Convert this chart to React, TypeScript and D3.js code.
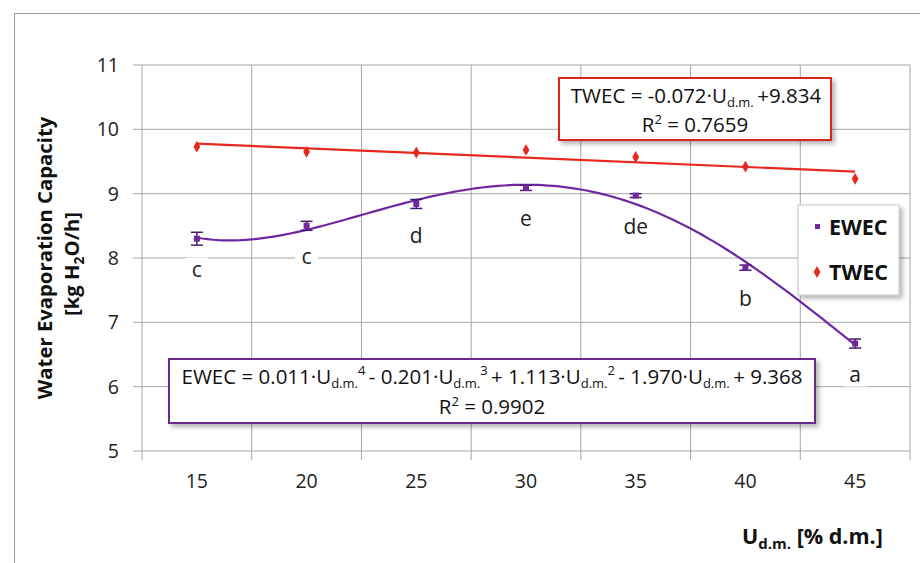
import * as d3 from "d3";

// moisture content categories (x axis is categorical, like an Excel line chart)
const categories = ["15", "20", "25", "30", "35", "40", "45"];
const ewec = [8.30, 8.50, 8.84, 9.09, 8.97, 7.85, 6.67];
const ewecErr = [0.10, 0.07, 0.07, 0.04, 0.03, 0.04, 0.07];
const twec = [9.73, 9.65, 9.64, 9.68, 9.57, 9.42, 9.23];
const letters = ["c", "c", "d", "e", "de", "b", "a"];
const yTicks = [5, 6, 7, 8, 9, 10, 11];

const W = 920;
const H = 563;
const margin = { top: 65, right: 10, bottom: 112, left: 142 };
const FONT = "'Open Sans', 'Noto Sans', sans-serif";
const PURPLE = "#7028a0";
const RED = "#e8281e";
const GRID = "#a6a6a6";

// least squares polynomial fit (what the trendline option does)
function polyFit(xs: number[], ys: number[], deg: number) {
  const n = deg + 1;
  const A: number[][] = [];
  for (let r = 0; r < n; r++) {
    const row: number[] = [];
    for (let c = 0; c < n; c++) row.push(d3.sum(xs, (x) => Math.pow(x, r + c)));
    row.push(d3.sum(xs, (x, i) => Math.pow(x, r) * ys[i]));
    A.push(row);
  }
  for (let i = 0; i < n; i++) {
    let p = i;
    for (let k = i + 1; k < n; k++) if (Math.abs(A[k][i]) > Math.abs(A[p][i])) p = k;
    [A[i], A[p]] = [A[p], A[i]];
    for (let k = i + 1; k < n; k++) {
      const f = A[k][i] / A[i][i];
      for (let c = i; c <= n; c++) A[k][c] -= f * A[i][c];
    }
  }
  const coef = new Array(n).fill(0);
  for (let i = n - 1; i >= 0; i--) {
    let s = A[i][n];
    for (let c = i + 1; c < n; c++) s -= A[i][c] * coef[c];
    coef[i] = s / A[i][i];
  }
  return (x: number) => coef.reduce((acc, c, i) => acc + c * Math.pow(x, i), 0);
}

function Sub({ children }: { children: string }) {
  return (
    <>
      <tspan dy={4} fontSize={13}>{children}</tspan>
      <tspan dy={-4}>{"\u2009"}</tspan>
    </>
  );
}
function SubSup({ sub, sup }: { sub: string; sup: string }) {
  return (
    <>
      <tspan dy={4} fontSize={13}>{sub}</tspan>
      <tspan dy={-13} fontSize={13}>{sup}</tspan>
      <tspan dy={9}>{"\u2009"}</tspan>
    </>
  );
}

export default function App() {
  const x = d3.scaleBand<string>().domain(categories).range([margin.left, W - margin.right]).padding(0);
  const xIdx = d3.scaleLinear().domain([0.5, categories.length + 0.5]).range([margin.left, W - margin.right]);
  const y = d3.scaleLinear().domain([5, 11]).range([H - margin.bottom, margin.top]);
  const cx = (i: number) => (x(categories[i]) as number) + x.bandwidth() / 2;

  const idx = categories.map((_, i) => i + 1);
  const ewecFit = polyFit(idx, ewec, 4);
  const twecFit = polyFit(idx, twec, 1);
  const samples = d3.range(1, 7.001, 0.05);
  const ewecPath = d3.line<number>().x((t) => xIdx(t)).y((t) => y(ewecFit(t)))(samples) as string;
  const twecPath = d3.line<number>().x((t) => xIdx(t)).y((t) => y(twecFit(t)))([1, 7]) as string;

  const edges = categories.map((c) => x(c) as number).concat([W - margin.right]);
  const diamond = d3.symbol().type(d3.symbolDiamond).size(40)() as string;

  return (
    <svg width={W} height={H} style={{ position: "absolute", left: 0, top: 0, background: "#fff" }} fontFamily={FONT}>
      <defs>
        <filter id="shadow" x="-10%" y="-10%" width="130%" height="150%">
          <feDropShadow dx={3} dy={3} stdDeviation={2.5} floodColor="#000" floodOpacity={0.3} />
        </filter>
      </defs>
      <rect x={14.5} y={13.5} width={W} height={H} fill="#fff" stroke="#9a9a9a" />

      {/* horizontal grid */}
      {yTicks.map((t) => (
        <line key={t} x1={margin.left - 9} x2={W - margin.right} y1={y(t)} y2={y(t)} stroke={GRID} strokeWidth={1} />
      ))}
      {/* vertical grid at category boundaries */}
      {edges.map((e, i) => (
        <line key={i} x1={e} x2={e} y1={margin.top} y2={H - margin.bottom + 9} stroke={GRID} strokeWidth={1} />
      ))}

      {/* tick labels */}
      {yTicks.map((t) => (
        <text key={t} x={119} y={y(t)} dy="0.36em" textAnchor="end" fontSize={19.5} fill="#222">{t}</text>
      ))}
      {categories.map((c, i) => (
        <text key={c} x={cx(i)} y={488} textAnchor="middle" fontSize={19.5} fill="#222">{c}</text>
      ))}

      {/* axis titles */}
      <text transform="translate(52,258) rotate(-90)" textAnchor="middle" fontSize={20.3} fontWeight="bold" fill="#111">
        Water Evaporation Capacity
      </text>
      <text transform="translate(79,264) rotate(-90)" textAnchor="middle" fontSize={20.3} fontWeight="bold" fill="#111">
        [kg H<tspan dy={5} fontSize={14}>2</tspan><tspan dy={-5}>O/h]</tspan>
      </text>
      <text x={742} y={544} fontSize={21.5} fontWeight="bold" fill="#111">
        U<tspan dy={5} fontSize={15}>d.m.</tspan><tspan dy={-5}> [% d.m.]</tspan>
      </text>

      {/* letter groups */}
      {letters.map((l, i) => {
        const ly = y(ewec[i]) + 31;
        const w = l.length * 13 + 10;
        return (
          <g key={i}>
            <rect x={cx(i) - w / 2} y={ly - 12} width={w} height={24} fill="#fff" />
            <text x={cx(i)} y={ly} dy="0.36em" textAnchor="middle" fontSize={21} fill="#222">{l}</text>
          </g>
        );
      })}

      {/* trendlines */}
      <path d={twecPath} fill="none" stroke={RED} strokeWidth={2.2} />
      <path d={ewecPath} fill="none" stroke={PURPLE} strokeWidth={2.2} />

      {/* TWEC points */}
      {twec.map((v, i) => (
        <path key={i} d={diamond} transform={`translate(${cx(i)},${y(v)})`} fill={RED} />
      ))}
      {/* EWEC points with error bars */}
      {ewec.map((v, i) => {
        const x0 = cx(i);
        const lo = y(v - ewecErr[i]);
        const hi = y(v + ewecErr[i]);
        return (
          <g key={i} stroke="#4a1a6a" strokeWidth={1.5}>
            <line x1={x0} x2={x0} y1={lo} y2={hi} />
            <line x1={x0 - 6} x2={x0 + 6} y1={lo} y2={lo} />
            <line x1={x0 - 6} x2={x0 + 6} y1={hi} y2={hi} />
            <rect x={x0 - 3} y={y(v) - 3} width={6} height={6} fill={PURPLE} stroke="none" />
          </g>
        );
      })}

      {/* TWEC equation box */}
      <g filter="url(#shadow)">
        <rect x={559} y={78} width={272} height={62} fill="#fff" stroke="#d8281e" strokeWidth={2} />
      </g>
      <text x={696} y={103} textAnchor="middle" fontSize={20.5} fill="#111">
        TWEC = -0.072·U<Sub>d.m.</Sub>+9.834
      </text>
      <text x={695} y={132} textAnchor="middle" fontSize={20.5} fill="#111">
        R<tspan dy={-8} fontSize={13}>2</tspan><tspan dy={8}> = 0.7659</tspan>
      </text>

      {/* EWEC equation box */}
      <g filter="url(#shadow)">
        <rect x={169} y={359} width={646} height={64} fill="#fff" stroke="#6a2a8a" strokeWidth={2} />
      </g>
      <text x={492} y={384} textAnchor="middle" fontSize={20.5} fill="#111">
        EWEC = 0.011·U<SubSup sub="d.m." sup="4" />- 0.201·U<SubSup sub="d.m." sup="3" />+ 1.113·U
        <SubSup sub="d.m." sup="2" />- 1.970·U<Sub>d.m.</Sub>+ 9.368
      </text>
      <text x={492} y={414} textAnchor="middle" fontSize={20.5} fill="#111">
        R<tspan dy={-8} fontSize={13}>2</tspan><tspan dy={8}> = 0.9902</tspan>
      </text>

      {/* legend */}
      <g filter="url(#shadow)">
        <rect x={798} y={205} width={101} height={90} fill="#fff" stroke="#c8c8c8" />
      </g>
      <rect x={815} y={224} width={5} height={5} fill={PURPLE} />
      <text x={829} y={227} dy="0.36em" fontSize={21.5} fontWeight="bold" fill="#111">EWEC</text>
      <path d={diamond} transform="translate(817,272)" fill={RED} />
      <text x={829} y={272} dy="0.36em" fontSize={21.5} fontWeight="bold" fill="#111">TWEC</text>
    </svg>
  );
}
